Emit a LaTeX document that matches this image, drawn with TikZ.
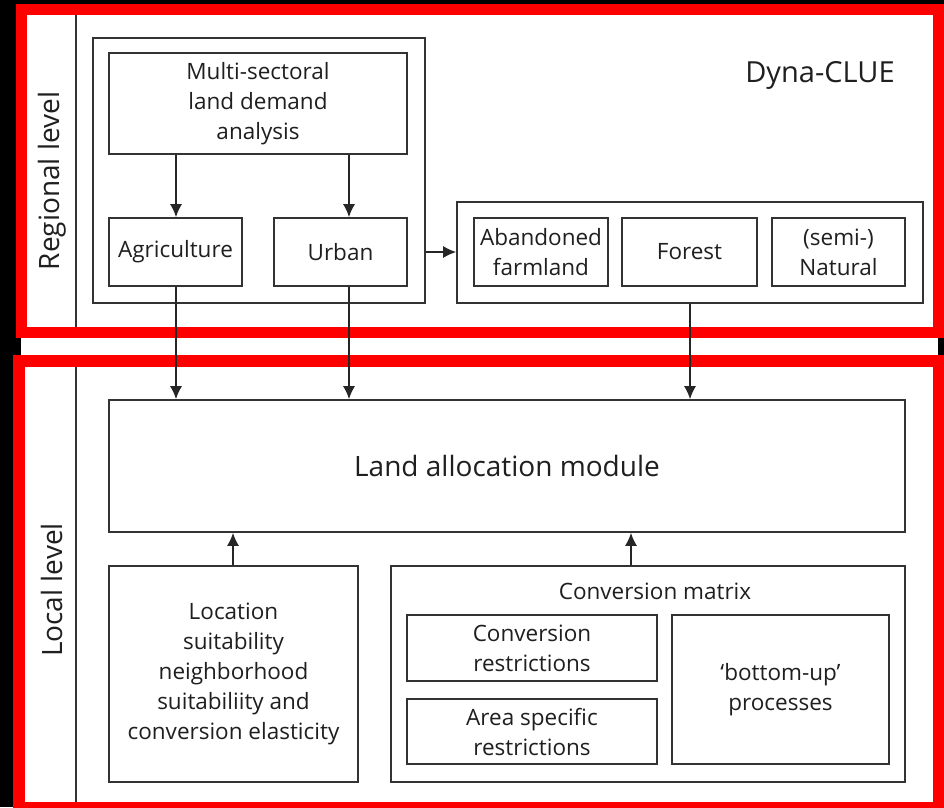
\documentclass[tikz,border=0pt]{standalone}
\usepackage{fontspec}
\setmainfont{Open Sans}
\usetikzlibrary{arrows.meta}

\begin{document}
\begin{tikzpicture}[x=1pt,y=-1pt]
  \tikzset{
    box/.style={draw=black!80, line width=1.6pt, align=center, inner sep=0pt,
      text=black!88, font=\fontsize{22.5}{30}\selectfont},
    frame/.style={draw=red, line width=11.5pt},
    flow/.style={-{Latex[length=13pt,width=12pt]}, draw=black!85, line width=1.6pt},
    lvl/.style={rotate=90, text=black!88, font=\fontsize{28}{32}\selectfont},
  }
  \useasboundingbox (0,0) rectangle (944,807);
  \fill[black] (0,0) rectangle (944,807);
  \fill[white] (21,10) rectangle (938,805);

  % level frames
  \draw[frame] (21.5,9.5) rectangle (938.5,332.5);
  \draw[frame] (19,361) rectangle (938.5,807.5);
  \draw[line width=1.6pt, black!80] (76,15) -- (76,327);
  \draw[line width=1.6pt, black!80] (76,367) -- (76,802);
  \node[lvl] (reg) at (52,181) {Regional level};
  \node[lvl] (loc) at (52,590) {Local level};
  \node[text=black!88, font=\fontsize{29}{34}\selectfont] (dyna) at (820,75) {Dyna-CLUE};

  % regional level
  \node[box, minimum width=332pt, minimum height=265pt] (demgrp) at (259,170.5){};
  \node[box, minimum width=298pt, minimum height=101pt] (demand) at (258,103.5)
    {Multi-sectoral\\land demand\\analysis};
  \node[box, minimum width=133pt, minimum height=68pt] (agri) at (175.5,252){Agriculture};
  \node[box, minimum width=133pt, minimum height=68pt] (urban) at (340.5,252){Urban};
  \coordinate (ax) at (176,0);
  \coordinate (ux) at (349,0);

  \node[box, minimum width=466pt, minimum height=101pt] (othgrp) at (690,252.5){};
  \node[box, minimum width=134pt, minimum height=68pt] (aband) at (541,252){Abandoned\\farmland};
  \node[box, minimum width=135pt, minimum height=68pt] (forest) at (689.5,252){Forest};
  \node[box, minimum width=133pt, minimum height=68pt] (natural) at (838.5,252){(semi-)\\Natural};
  \coordinate (fx) at (690,0);

  \draw[flow] (demand.south -| ax) -- (agri.north -| ax);
  \draw[flow] (demand.south -| ux) -- (urban.north -| ux);
  \draw[flow] (demgrp.east |- urban) -- (othgrp.west |- urban);

  % local level
  \node[box, minimum width=796pt, minimum height=132pt,
    font=\fontsize{28}{32}\selectfont] (alloc) at (507,466){Land allocation module};
  \node[box, minimum width=249pt, minimum height=216pt] (suit) at (233.5,674)
    {Location\\suitability\\neighborhood\\suitabiliity and\\conversion elasticity};
  \node[box, minimum width=514pt, minimum height=216pt] (matrix) at (648,674){};
  \node[text=black!88, font=\fontsize{22.5}{30}\selectfont] (mtitle) at (655,591){Conversion matrix};
  \node[box, minimum width=250pt, minimum height=66pt] (convres) at (532,648)
    {Conversion\\restrictions};
  \node[box, minimum width=250pt, minimum height=65pt] (areares) at (532,731.5)
    {Area specific\\restrictions};
  \node[box, minimum width=217pt, minimum height=149pt] (bottomup) at (780.5,689.5)
    {`bottom-up'\\processes};
  \coordinate (sx) at (233,0);
  \coordinate (mx) at (631,0);

  \draw[flow] (agri.south -| ax) -- (alloc.north -| ax);
  \draw[flow] (urban.south -| ux) -- (alloc.north -| ux);
  \draw[flow] (othgrp.south -| fx) -- (alloc.north -| fx);
  \draw[flow] (suit.north -| sx) -- (alloc.south -| sx);
  \draw[flow] (matrix.north -| mx) -- (alloc.south -| mx);
\end{tikzpicture}
\end{document}
